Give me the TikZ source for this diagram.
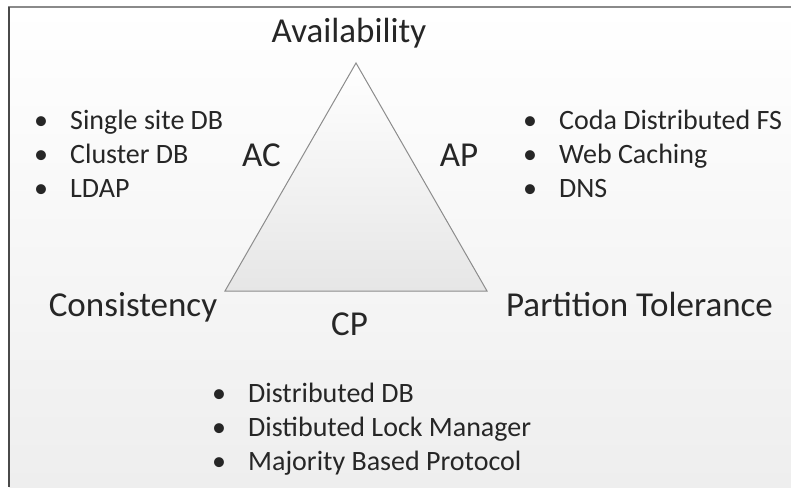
\documentclass[tikz,border=0pt]{standalone}
\usepackage{fontspec}
\setmainfont{Carlito}
\usepackage{xcolor}
\usepackage{tikz}
\usetikzlibrary{positioning}

\definecolor{inkgray}{HTML}{262626}
\definecolor{bggray}{HTML}{EEEEEE}
\definecolor{trigray}{HTML}{E6E6E6}
\definecolor{edgegray}{HTML}{8C8C8C}
\definecolor{topline}{HTML}{8A8A8A}
\definecolor{leftline}{HTML}{4A4A4A}

\newcommand{\capbullet}{\makebox[36pt][l]{\textbullet}}

\tikzset{
  corner/.style={inner sep=0pt, anchor=base, text=inkgray, font=\fontsize{35}{42}\selectfont},
  item/.style={inner sep=0pt, anchor=base west, text=inkgray, font=\fontsize{28}{34}\selectfont},
}

\begin{document}
\begin{tikzpicture}[x=1pt,y=-1pt]
\useasboundingbox (0,0) rectangle (791,487);
\fill [white] (0,0) rectangle (791,487);
\shade [top color=white, bottom color=bggray] (9,7) rectangle (791,487);
\draw [topline,line width=2pt] (791,7) -- (8,7);
\draw [leftline,line width=2pt] (9,7) -- (9,487);

% the triangle
\coordinate (A) at (356,63);
\coordinate (C) at (225,291);
\coordinate (P) at (487,291);
\shadedraw [top color=white, bottom color=trigray, draw=edgegray, line width=1pt] (A) -- (C) -- (P) -- cycle;

\node [corner] (avail) at (349,43) {Availability};
\node [corner] (cons) at (133,316) {Consistency};
\node [corner] (part) at (639.5,316) {Partition Tolerance};
\node [corner] (ac) at (261.5,166) {AC};
\node [corner] (ap) at (459,166) {AP};
\node [corner] (cp) at (349.5,335) {CP};

% examples
\foreach \txt [count=\i] in {Single site DB, Cluster DB, LDAP}
  \node [item] (aclist\i) at (34,95+34*\i) {\capbullet\txt};
\foreach \txt [count=\i] in {Coda Distributed FS, Web Caching, DNS}
  \node [item] (aplist\i) at (523,95+34*\i) {\capbullet\txt};
\foreach \txt [count=\i] in {Distributed DB, Distibuted Lock Manager, Majority Based Protocol}
  \node [item] (cplist\i) at (212,368+34*\i) {\capbullet\txt};
\end{tikzpicture}
\end{document}
